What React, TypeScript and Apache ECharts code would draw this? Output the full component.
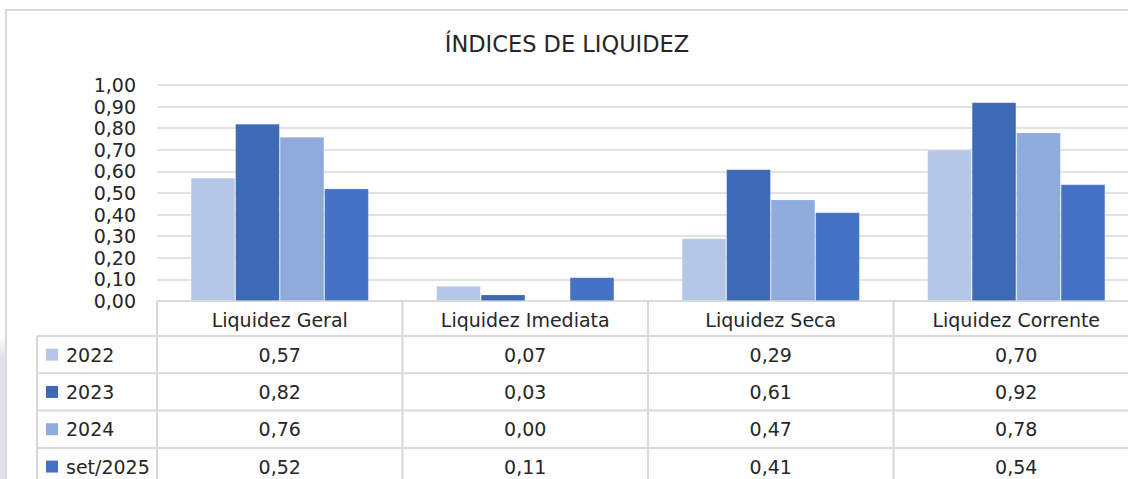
import React, { useEffect, useRef } from "react";
import * as echarts from "echarts";

const title = "ÍNDICES DE LIQUIDEZ";
const categories = ["Liquidez Geral", "Liquidez Imediata", "Liquidez Seca", "Liquidez Corrente"];
const seriesNames = ["2022", "2023", "2024", "set/2025"];
const values2022 = [0.57, 0.07, 0.29, 0.7];
const values2023 = [0.82, 0.03, 0.61, 0.92];
const values2024 = [0.76, 0.0, 0.47, 0.78];
const valuesSet2025 = [0.52, 0.11, 0.41, 0.54];
const seriesValues = [values2022, values2023, values2024, valuesSet2025];
const seriesColors = ["#B4C7E7", "#3E69B5", "#8FAADC", "#4472C4"];
const yMin = 0;
const yMax = 1;
const yInterval = 0.1;

const FONT = "DejaVu Sans";
const TEXT_COLOR = "#262626";
const LINE_COLOR = "#D9D9D9";

const fmt = (v: number) => v.toFixed(2).replace(".", ",");

export default function App() {
  const ref = useRef<HTMLDivElement>(null);

  useEffect(() => {
    if (!ref.current) return;
    const chart = echarts.init(ref.current, undefined, { renderer: "svg" });
    const gridLeft = 157;
    const gridTop = 85;
    const gridHeight = 216;
    const gridWidth = 982;

    chart.setOption({
      animation: false,
      backgroundColor: "#FFFFFF",
      grid: { left: gridLeft, top: gridTop, width: gridWidth, height: gridHeight, containLabel: false },
      xAxis: {
        type: "category",
        data: categories,
        axisLine: { show: true, lineStyle: { color: LINE_COLOR, width: 1.5 } },
        axisTick: { show: false },
        axisLabel: { show: false },
        splitLine: { show: false },
      },
      yAxis: {
        type: "value",
        min: yMin,
        max: yMax,
        interval: yInterval,
        axisLine: { show: false },
        axisTick: { show: false },
        splitLine: { show: true, lineStyle: { color: LINE_COLOR, width: 1.5 } },
        axisLabel: {
          formatter: (v: number) => fmt(v),
          color: TEXT_COLOR,
          fontFamily: FONT,
          fontSize: 19,
          margin: 21,
        },
      },
      series: seriesNames.map((name, i) => ({
        name,
        type: "bar",
        data: seriesValues[i],
        barGap: "0%",
        barCategoryGap: "27.5%",
        itemStyle: {
          color: seriesColors[i],
          borderColor: "rgba(255,255,255,0.22)",
          borderWidth: 0.8,
        },
      })),
    });

    const xs = categories.map((c) => chart.convertToPixel({ xAxisIndex: 0 }, c) as number);
    const band = xs[1] - xs[0];
    const y0 = chart.convertToPixel({ yAxisIndex: 0 }, 0) as number;
    const headerH = 35;
    const rowH = 37.3;
    const legendLeft = 37;
    const bottom = y0 + headerH + seriesNames.length * rowH + 10;
    const rightEdge = xs[xs.length - 1] + band / 2;

    const elements: any[] = [];
    // frame
    elements.push({
      type: "rect",
      shape: { x: 6, y: 10, width: 1400, height: 800 },
      style: { fill: "none", stroke: LINE_COLOR, lineWidth: 2 },
      z: 0,
    });
    // left shadow
    elements.push({
      type: "rect",
      shape: { x: 0, y: 335, width: 5, height: 150 },
      style: {
        fill: new echarts.graphic.LinearGradient(0, 0, 0, 1, [
          { offset: 0, color: "rgba(225,225,232,0)" },
          { offset: 0.15, color: "rgba(225,225,232,1)" },
          { offset: 1, color: "rgba(225,225,232,1)" },
        ]),
      },
      z: 0,
    });
    // title
    elements.push({
      type: "text",
      x: 567,
      y: 44,
      style: {
        text: title,
        font: `22.5px "${FONT}"`,
        fill: TEXT_COLOR,
        align: "center",
        verticalAlign: "middle",
      },
    });
    // vertical lines of categories
    for (let i = 0; i <= categories.length; i++) {
      const x = i < categories.length ? xs[i] - band / 2 : rightEdge;
      elements.push({
        type: "line",
        shape: { x1: x, y1: y0, x2: x, y2: bottom },
        style: { stroke: LINE_COLOR, lineWidth: 2 },
      });
    }
    // legend column left line
    elements.push({
      type: "line",
      shape: { x1: legendLeft, y1: y0 + headerH, x2: legendLeft, y2: bottom },
      style: { stroke: LINE_COLOR, lineWidth: 2 },
    });
    // horizontal lines
    for (let k = 0; k <= seriesNames.length; k++) {
      const y = y0 + headerH + k * rowH;
      elements.push({
        type: "line",
        shape: { x1: legendLeft, y1: y, x2: rightEdge, y2: y },
        style: { stroke: LINE_COLOR, lineWidth: 2 },
      });
    }
    // header labels
    categories.forEach((c, i) => {
      elements.push({
        type: "text",
        x: xs[i],
        y: y0 + headerH / 2 + 1,
        style: {
          text: c,
          font: `19px "${FONT}"`,
          fill: TEXT_COLOR,
          align: "center",
          verticalAlign: "middle",
        },
      });
    });
    // rows
    seriesNames.forEach((name, r) => {
      const cy = y0 + headerH + r * rowH + rowH / 2;
      elements.push({
        type: "rect",
        shape: { x: 46, y: cy - 6, width: 12, height: 12 },
        style: { fill: seriesColors[r] },
      });
      elements.push({
        type: "text",
        x: 66,
        y: cy,
        style: {
          text: name,
          font: `19px "${FONT}"`,
          fill: TEXT_COLOR,
          align: "left",
          verticalAlign: "middle",
        },
      });
      seriesValues[r].forEach((v, i) => {
        elements.push({
          type: "text",
          x: xs[i],
          y: cy,
          style: {
            text: fmt(v),
            font: `19px "${FONT}"`,
            fill: TEXT_COLOR,
            align: "center",
            verticalAlign: "middle",
          },
        });
      });
    });

    chart.setOption({ graphic: { elements } });

    return () => chart.dispose();
  }, []);

  return (
    <div style={{ position: "fixed", left: 0, top: 0, width: 1128, height: 479, overflow: "hidden", background: "#fff" }}>
      <div ref={ref} style={{ width: 1160, height: 479 }} />
    </div>
  );
}
